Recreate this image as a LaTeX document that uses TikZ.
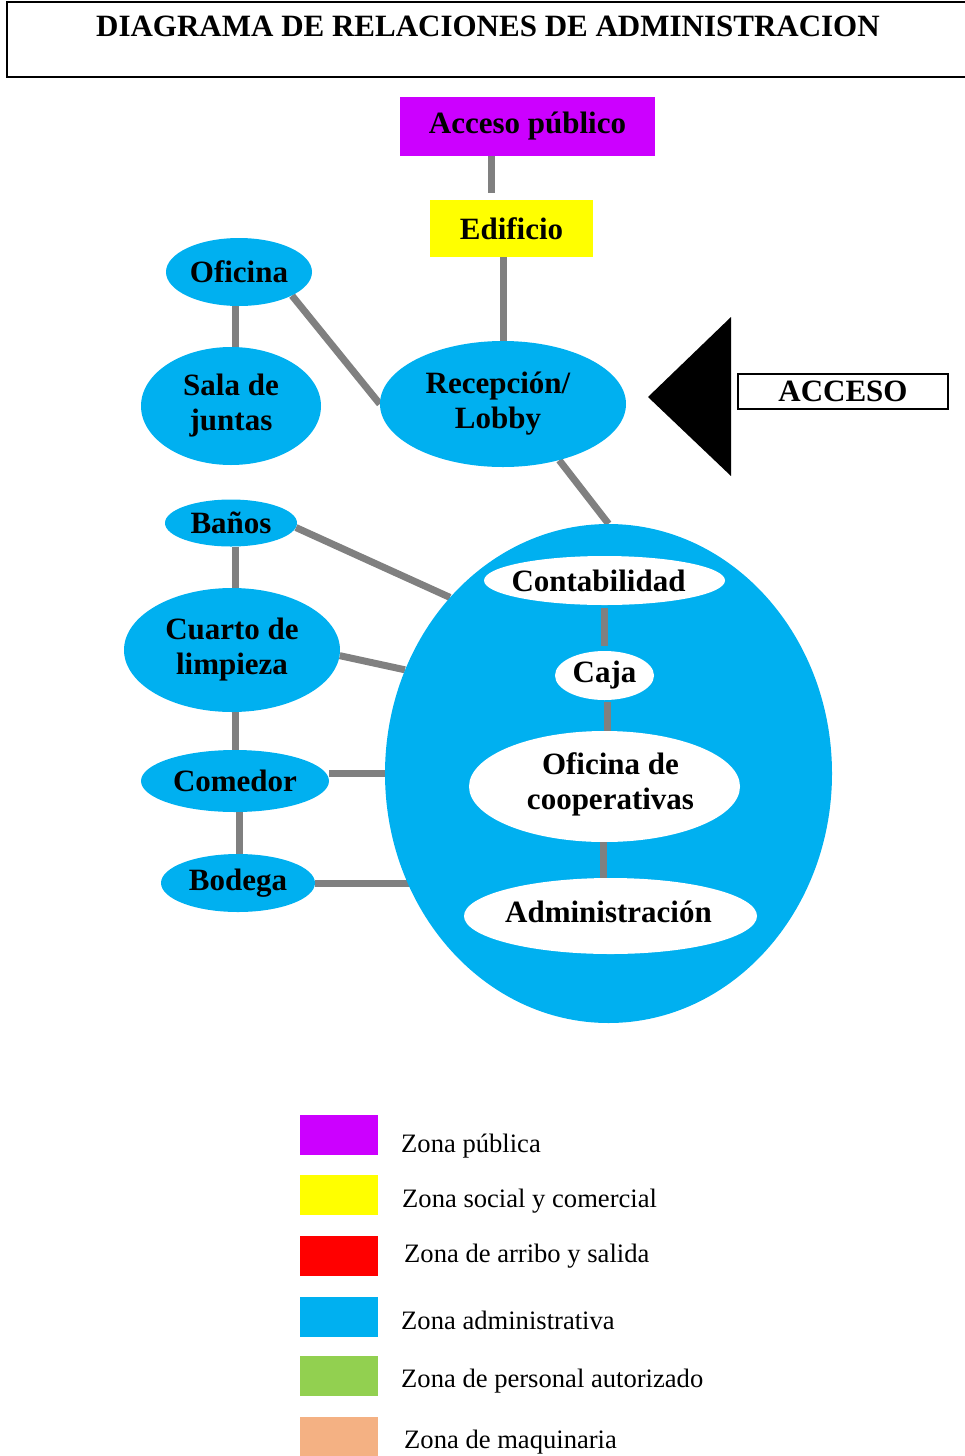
\documentclass[tikz,border=0pt]{standalone}
\usepackage{fontspec}
\setmainfont{Liberation Serif}
\usetikzlibrary{shapes.geometric,backgrounds}
\definecolor{zpublica}{HTML}{CC00FF}
\definecolor{zsocial}{HTML}{FFFF00}
\definecolor{zarribo}{HTML}{FF0000}
\definecolor{zadmin}{HTML}{00B0F0}
\definecolor{zpersonal}{HTML}{92D050}
\definecolor{zmaquinaria}{HTML}{F4B183}
\definecolor{gris}{HTML}{808080}
\begin{document}
\begin{tikzpicture}[
      x=1pt, y=-1pt,
      zona/.style={ellipse, fill=zadmin, inner sep=0pt},
      blanca/.style={ellipse, fill=white, inner sep=0pt},
      bloque/.style={rectangle, inner sep=0pt},
      texto/.style={font=\fontsize{31}{35}\selectfont\bfseries, align=center},
      enlace/.style={draw=gris, line width=7pt},
      muestra/.style={minimum width=78pt, minimum height=40pt, inner sep=0pt},
      leyenda/.style={anchor=base west, inner sep=0pt, font=\fontsize{26.6}{32}\selectfont}
      ]
    \useasboundingbox (0,0) rectangle (964,1456);

    \node[bloque, draw, line width=2pt, minimum width=964pt, minimum height=75pt, anchor=north west] (marco) at (6,1) {};
    \node[texto, anchor=base, inner sep=0pt] (titulo) at (488,36) {DIAGRAMA DE RELACIONES DE ADMINISTRACION};

    \node[bloque, fill=zpublica, minimum width=255pt, minimum height=59pt, texto] (acceso) at (527.5,126.5) {Acceso público};
    \node[bloque, fill=zsocial, minimum width=163pt, minimum height=57pt, texto] (edificio) at (511.5,228.5) {Edificio};

    \node[zona, minimum width=146pt, minimum height=68pt, label={[texto]center:Oficina}] (oficina) at (239,272) {};
    \node[zona, minimum width=180pt, minimum height=118pt, label={[texto]center:Sala de\\juntas}] (sala) at (231,406) {};
    \node[zona, minimum width=246pt, minimum height=126pt, label={[texto,xshift=-5pt]center:Recepción/\\Lobby}] (recepcion) at (503,404) {};
    \node[zona, minimum width=132pt, minimum height=47pt, label={[texto]center:Baños}] (banos) at (231,523) {};
    \node[zona, minimum width=216pt, minimum height=124pt, label={[texto]center:Cuarto de\\limpieza}] (cuarto) at (232,650) {};
    \node[zona, minimum width=188pt, minimum height=62pt, label={[texto]center:Comedor}] (comedor) at (235,781) {};
    \node[zona, minimum width=154pt, minimum height=58pt, label={[texto]center:Bodega}] (bodega) at (238,883) {};

    \node[zona, minimum width=447pt, minimum height=499pt] (admin) at (608.5,773.5) {};
    \node[blanca, minimum width=241pt, minimum height=49pt, label={[texto,xshift=-6pt]center:Contabilidad}] (contabilidad) at (604.5,580.5) {};
    \node[blanca, minimum width=99pt, minimum height=49pt, label={[texto]center:Caja}] (caja) at (604.5,675.5) {};
    \node[blanca, minimum width=271pt, minimum height=111pt, label={[texto,xshift=6pt,yshift=2pt]center:Oficina de\\cooperativas}] (cooperativas) at (604.5,786.5) {};
    \node[blanca, minimum width=293pt, minimum height=76pt, label={[texto,xshift=-2pt,yshift=4pt]center:Administración}] (administracion) at (610.5,916) {};

    \fill (648,397) -- (731,317) -- (731,476) -- cycle;
    \node[bloque, draw, line width=2pt, minimum width=210pt, minimum height=35pt, texto] (entrada) at (843,391.5) {ACCESO};

    \begin{pgfonlayer}{background}
      \draw[enlace] ([xshift=-36.5pt]acceso.south) -- ([xshift=-20.5pt,yshift=7pt]edificio.north);
      \draw[enlace] ([xshift=-8.5pt]edificio.south) -- (recepcion.north);
      \draw[enlace] ([xshift=-4pt]oficina.south) -- ([xshift=4pt]sala.north);
      \draw[enlace] (oficina.-24) -- (recepcion.west);
      \draw[enlace] (recepcion.-45) -- (admin.north);
      \draw[enlace] ([xshift=4pt]banos.south) -- ([xshift=3pt]cuarto.north);
      \draw[enlace] (banos.-4) -- (admin.132);
      \draw[enlace] ([xshift=3pt]cuarto.south) -- (comedor.north);
      \draw[enlace] (cuarto.-3) -- (admin.153);
      \draw[enlace] (comedor.east |- admin.west) -- (admin.west);
      \draw[enlace] ([xshift=4pt]comedor.south) -- ([xshift=1pt]bodega.north);
      \draw[enlace] (bodega.east) -- (bodega.east -| admin.center);
    \end{pgfonlayer}

    \draw[enlace, shorten <=3pt, shorten >=5pt] (contabilidad.south) -- (caja.north);
    \draw[enlace, shorten <=2pt] ([xshift=2.5pt]caja.south) -- ([xshift=2.5pt]cooperativas.north);
    \draw[enlace] ([xshift=-1.5pt]cooperativas.south) -- ([xshift=-7.5pt]administracion.north);

    \node[muestra, fill=zpublica] (mpublica) at (339,1135) {};
    \node[leyenda] (lpublica) at (401,1152) {Zona pública};
    \node[muestra, fill=zsocial] (msocial) at (339,1195) {};
    \node[leyenda] (lsocial) at (402,1207) {Zona social y comercial};
    \node[muestra, fill=zarribo] (marribo) at (339,1256) {};
    \node[leyenda] (larribo) at (404,1262) {Zona de arribo y salida};
    \node[muestra, fill=zadmin] (madmin) at (339,1317) {};
    \node[leyenda] (ladmin) at (401,1329) {Zona administrativa};
    \node[muestra, fill=zpersonal] (mpersonal) at (339,1376) {};
    \node[leyenda] (lpersonal) at (401,1387) {Zona de personal autorizado};
    \node[muestra, fill=zmaquinaria] (mmaquinaria) at (339,1437) {};
    \node[leyenda] (lmaquinaria) at (404,1448) {Zona de maquinaria};

\end{tikzpicture}
\end{document}
